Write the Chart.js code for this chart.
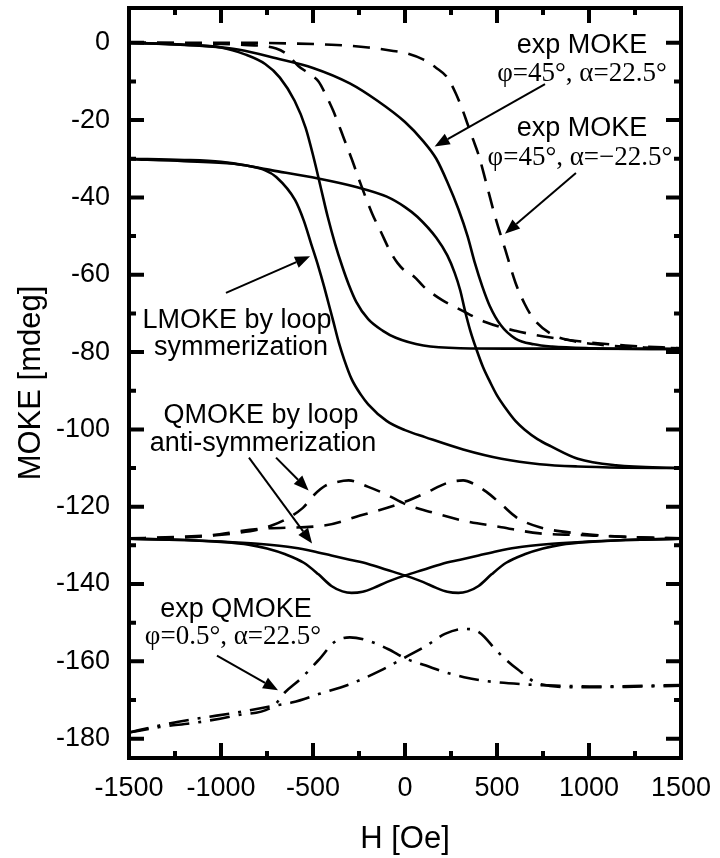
<!DOCTYPE html>
<html>
<head>
<meta charset="utf-8">
<script src="https://cdn.jsdelivr.net/npm/chart.js@4.4.1/dist/chart.umd.min.js"></script>
<style>
  html, body { margin: 0; padding: 0; background: #fff; }
  #wrap { width: 720px; height: 858px; position: relative; }
</style>
</head>
<body>
<div id="wrap"><canvas id="mokeChart"></canvas></div>
<script>
// axis ticks
const xTicks = [-1500, -1000, -500, 0, 500, 1000, 1500];
const xMinor = [-1250, -750, -250, 250, 750, 1250];
const yTicks = [-180, -160, -140, -120, -100, -80, -60, -40, -20, 0];
const yMinor = [-170, -150, -130, -110, -90, -70, -50, -30, -10];

// exp MOKE phi=45, alpha=22.5 (solid loop)
const hA1 = [-1500, -1300, -1100, -900, -700, -500, -300, -150, 0, 100, 170, 230, 290, 340, 380, 420, 460, 520, 600, 700, 800, 1000, 1500];
const mA1 = [0, -0.3, -0.8, -1.8, -4, -6.5, -10.5, -15, -20.5, -25.5, -30, -36, -43, -50, -57, -63, -68, -73, -76.5, -78, -78.6, -79, -79.2];
const hA2 = [-1500, -1200, -1000, -870, -760, -680, -600, -540, -495, -455, -420, -380, -340, -306, -265, -200, -120, -50, 100, 300, 600, 1000, 1500];
const mA2 = [0, -0.5, -1.2, -3, -5.5, -9, -15, -22, -30, -38, -45, -52, -58, -62.5, -67, -71.5, -74.5, -76.3, -78.3, -79, -79.1, -79.1, -79.2];

// exp MOKE phi=45, alpha=-22.5 (dashed loop)
const hD1 = [-1500, -1200, -900, -600, -400, -200, -50, 0, 98, 170, 230, 275, 310, 340, 370, 400, 440, 490, 545, 600, 650, 700, 800, 900, 1100, 1300, 1500];
const mD1 = [0, 0, 0, -0.2, -0.5, -1.2, -2.2, -2.6, -4.3, -6.5, -9, -13, -17, -21, -25, -29, -36, -45, -53.5, -62, -67.5, -71.5, -75.5, -77, -78.3, -78.8, -79];
const hD2 = [-1500, -1200, -900, -700, -640, -580, -520, -470, -430, -390, -330, -290, -245, -180, -130, -80, -40, 0, 50, 100, 200, 300, 440, 600, 800, 1000, 1200, 1500];
const mD2 = [0, -0.1, -0.5, -1.5, -3, -6, -8, -10, -13.5, -17.6, -25, -30, -36, -44, -49, -54, -57, -59, -60.5, -63, -66.5, -69, -72.3, -74.5, -76.3, -77.5, -78.3, -79];

// LMOKE by loop symmerization (solid loop)
const hB1 = [-1500, -1200, -1000, -870, -760, -700, -597, -550, -510, -470, -440, -415, -390, -360, -330, -290, -240, -200, -100, 0, 109, 316, 524, 732, 939, 1200, 1500];
const mB1 = [-30, -30.3, -30.8, -31.7, -33, -34.7, -40.7, -46, -52, -58, -63, -67.5, -72, -77.5, -82, -87, -91, -93.5, -97.8, -100.2, -102, -105.2, -107.6, -109, -109.6, -109.9, -110];
const hB2 = [-1500, -1200, -929, -722, -472, -265, -99, 0, 67, 171, 230, 270, 300, 327, 355, 389, 425, 462, 500, 545, 600, 649, 720, 794, 939, 1147, 1500];
const mB2 = [-30.1, -30.6, -31.3, -33, -35.1, -37.3, -39.8, -42.5, -45, -50.5, -55, -59.5, -64, -69.5, -74.5, -79.4, -84, -87.7, -91.2, -94.4, -97.8, -100, -102.5, -104.4, -107.6, -109.3, -110];

// QMOKE by loop anti-symmerization (dashed)
const hQd1 = [-1500, -1240, -929, -721, -555, -493, -430, -369, -306, -203, -99, 5, 150, 316, 524, 732, 939, 1200, 1500];
const mQd1 = [-128.2, -127.8, -126.9, -124.8, -120.3, -116.9, -114.5, -113.6, -113.2, -114.8, -116.9, -119.4, -121.5, -123.6, -125.3, -126.9, -127.3, -127.8, -128.2];
const hQd2 = [-1500, -1137, -784, -431, -244, -16, 109, 233, 316, 370, 441, 524, 607, 732, 939, 1200, 1500];
const mQd2 = [-128.2, -127.8, -125.7, -124.8, -122.3, -119, -116.5, -113.8, -113.2, -114, -116.1, -119.4, -122.8, -125.3, -126.9, -127.8, -128.2];

// QMOKE by loop anti-symmerization (solid)
const hQs1 = [-1500, -1200, -1000, -850, -750, -650, -550, -470, -400, -340, -290, -230, -170, -100, 0, 100, 200, 300, 400, 500, 600, 800, 1000, 1200, 1500];
const mQs1 = [-128.3, -128.6, -129.1, -129.8, -130.8, -132.3, -134.5, -137.5, -140.5, -141.9, -142.3, -142, -141, -139.5, -137.8, -136.3, -134.8, -133.7, -132.6, -131.5, -130.6, -129.6, -129, -128.6, -128.3];
const hQs2 = [-1500, -1200, -1000, -800, -600, -500, -400, -300, -200, -100, 0, 100, 170, 230, 290, 340, 400, 470, 550, 650, 750, 850, 1000, 1200, 1500];
const mQs2 = [-128.3, -128.6, -129, -129.6, -130.6, -131.5, -132.6, -133.7, -134.8, -136.3, -137.8, -139.5, -141, -142, -142.3, -141.9, -140.5, -137.5, -134.5, -132.3, -130.8, -129.8, -129.1, -128.6, -128.3];

// exp QMOKE phi=0.5, alpha=22.5 (dash-dot)
const hE1 = [-1500, -1334, -1128, -921, -714, -652, -569, -465, -383, -300, -197, -93, 10, 114, 217, 321, 424, 631, 838, 1045, 1500];
const mE1 = [-178.4, -177, -175.8, -174, -171.5, -168, -164.6, -159.4, -155, -153.8, -154.7, -156.8, -159.4, -161.1, -162.8, -164.1, -165, -165.9, -166.3, -166.5, -166.1];
const hE2 = [-1500, -1334, -1128, -921, -714, -610, -465, -300, -134, 0, 114, 217, 321, 403, 507, 610, 734, 941, 1200, 1500];
const mE2 = [-178.4, -176.6, -174.8, -173.3, -171.5, -170.6, -168.4, -165.9, -162.4, -159, -156, -152.9, -151.6, -152.5, -157.7, -162, -165.9, -166.7, -166.6, -166.3];

const pts = (h, m) => h.map((v, i) => ({ x: v, y: m[i] }));

const SOLID = [];
const DASH = [17, 11];
const DASHDOT = [20, 9, 3, 9];

function series(h, m, dash, width) {
    return {
        data: pts(h, m),
        borderColor: '#000',
        borderWidth: width || 2.6,
        borderDash: dash,
        pointRadius: 0,
        showLine: true,
        fill: false,
        cubicInterpolationMode: 'monotone'
    };
}

const notes = [
    { text: 'exp MOKE', h: 962, m: -0.6, serif: false },
    { text: 'φ=45°, α=22.5°', h: 962, m: -8.1, serif: true },
    { text: 'exp MOKE', h: 962, m: -22.2, serif: false },
    { text: 'φ=45°, α=−22.5°', h: 951, m: -29.8, serif: true },
    { text: 'LMOKE by loop', h: -913, m: -71.9, serif: false },
    { text: 'symmerization', h: -891, m: -78.9, serif: false },
    { text: 'QMOKE by loop', h: -783, m: -96.5, serif: false },
    { text: 'anti-symmerization', h: -772, m: -103.7, serif: false },
    { text: 'exp QMOKE', h: -918, m: -146.6, serif: false },
    { text: 'φ=0.5°, α=22.5°', h: -935, m: -153.8, serif: true }
];

const arrows = [
    [761, -10.7, 161, -26.8],
    [929, -33.7, 543, -49.4],
    [-973, -64.7, -516, -55.2],
    [-701, -107.3, -524, -115.8],
    [-848, -107.3, -505, -129.5],
    [-1022, -158.5, -690, -167.5]
];

const framePlugin = {
    id: 'frame',
    afterDatasetsDraw(chart) {
        const { ctx, chartArea: a, scales: { x, y } } = chart;
        ctx.save();
        ctx.strokeStyle = '#000';
        ctx.fillStyle = '#000';

        // inward ticks on all four sides
        ctx.lineWidth = 4;
        ctx.beginPath();
        const xt = (vals, len) => vals.forEach(v => {
            const px = x.getPixelForValue(v);
            ctx.moveTo(px, a.bottom); ctx.lineTo(px, a.bottom - len);
            ctx.moveTo(px, a.top); ctx.lineTo(px, a.top + len);
        });
        const yt = (vals, len) => vals.forEach(v => {
            const py = y.getPixelForValue(v);
            ctx.moveTo(a.left, py); ctx.lineTo(a.left + len, py);
            ctx.moveTo(a.right, py); ctx.lineTo(a.right - len, py);
        });
        xt(xTicks, 15); xt(xMinor, 7);
        yt(yTicks, 15); yt(yMinor, 7);
        ctx.stroke();

        ctx.lineWidth = 4;
        ctx.strokeRect(a.left, a.top, a.right - a.left, a.bottom - a.top);

        // labels
        ctx.textAlign = 'center';
        ctx.textBaseline = 'middle';
        notes.forEach(n => {
            ctx.font = n.serif ? '27px "Liberation Serif"' : '27px "Liberation Sans"';
            ctx.fillText(n.text, x.getPixelForValue(n.h), y.getPixelForValue(n.m));
        });

        // arrows
        ctx.lineWidth = 2;
        arrows.forEach(([h0, m0, h1, m1]) => {
            const x0 = x.getPixelForValue(h0), y0 = y.getPixelForValue(m0);
            const x1 = x.getPixelForValue(h1), y1 = y.getPixelForValue(m1);
            const ang = Math.atan2(y1 - y0, x1 - x0);
            const hl = 15, hw = 6;
            const bx = x1 - hl * Math.cos(ang), by = y1 - hl * Math.sin(ang);
            ctx.beginPath();
            ctx.moveTo(x0, y0); ctx.lineTo(bx, by);
            ctx.stroke();
            ctx.beginPath();
            ctx.moveTo(x1, y1);
            ctx.lineTo(bx + hw * Math.sin(ang), by - hw * Math.cos(ang));
            ctx.lineTo(bx - hw * Math.sin(ang), by + hw * Math.cos(ang));
            ctx.closePath();
            ctx.fill();
        });
        ctx.restore();
    }
};

const ctx = document.getElementById('mokeChart').getContext('2d');
new Chart(ctx, {
    type: 'scatter',
    data: {
        datasets: [
            series(hA1, mA1, SOLID),
            series(hA2, mA2, SOLID),
            series(hD1, mD1, DASH),
            series(hD2, mD2, DASH),
            series(hB1, mB1, SOLID),
            series(hB2, mB2, SOLID),
            series(hQd1, mQd1, DASH),
            series(hQd2, mQd2, DASH),
            series(hQs1, mQs1, SOLID),
            series(hQs2, mQs2, SOLID),
            series(hE1, mE1, DASHDOT),
            series(hE2, mE2, DASHDOT)
        ]
    },
    options: {
        responsive: true,
        maintainAspectRatio: false,
        animation: false,
        layout: { padding: { top: 8, right: 39, bottom: 0, left: 0 } },
        plugins: { legend: { display: false }, tooltip: { enabled: false } },
        scales: {
            x: {
                type: 'linear',
                min: -1500,
                max: 1500,
                afterFit: s => { s.height = 100; s.paddingLeft = 0; s.paddingRight = 0; },
                afterBuildTicks: s => { s.ticks = xTicks.map(v => ({ value: v })); },
                grid: { display: false, drawTicks: false },
                border: { display: false },
                ticks: {
                    padding: 14,
                    color: '#000',
                    font: { family: 'Liberation Sans', size: 27 },
                    maxRotation: 0,
                    callback: v => String(v)
                },
                title: {
                    display: true,
                    text: 'H [Oe]',
                    color: '#000',
                    font: { family: 'Liberation Sans', size: 31 },
                    padding: { top: 0, bottom: 0 }
                }
            },
            y: {
                type: 'linear',
                min: -185,
                max: 9,
                afterFit: s => { s.width = 129; s.paddingTop = 0; s.paddingBottom = 0; },
                afterBuildTicks: s => { s.ticks = yTicks.map(v => ({ value: v })); },
                grid: { display: false, drawTicks: false },
                border: { display: false },
                ticks: {
                    padding: 19,
                    color: '#000',
                    font: { family: 'Liberation Sans', size: 27 },
                    callback: v => String(v)
                },
                title: {
                    display: true,
                    text: 'MOKE [mdeg]',
                    color: '#000',
                    font: { family: 'Liberation Sans', size: 31 },
                    padding: { top: 13, bottom: 0 }
                }
            }
        }
    },
    plugins: [framePlugin]
});
</script>
</body>
</html>
